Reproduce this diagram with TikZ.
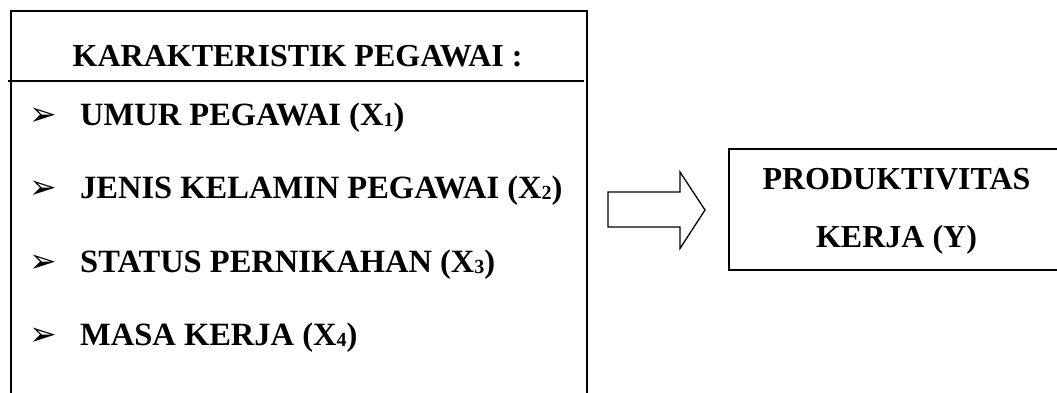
\documentclass[tikz,border=0pt]{standalone}
\usepackage{fontspec}
\setmainfont{Liberation Serif}
\newfontfamily\dejavu{DejaVu Sans}
\newcommand{\subdig}[1]{\raisebox{-1pt}{\fontsize{20}{20}\selectfont #1}}
\begin{document}
\begin{tikzpicture}[x=1pt,y=-1pt,
  frame/.style={draw, line width=2pt, inner sep=0pt},
  bigtxt/.style={font=\fontsize{32}{36}\selectfont\bfseries, inner sep=0pt},
  itemtxt/.style={font=\fontsize{32.5}{36}\selectfont\bfseries, inner sep=0pt, anchor=base west},
  bul/.style={font=\dejavu\fontsize{33}{36}\selectfont, inner sep=0pt, anchor=base west},
  arrowshape/.style={draw, line width=1.3pt, line join=miter}
  ]
\clip (0,0) rectangle (1057,392);
\fill[white] (0,0) rectangle (1057,392);
% left box (open at the bottom of the picture)
\node[frame, anchor=north west, minimum width=576.2pt, minimum height=420pt] (kar) at (9.5,10) {};
\coordinate (sepL) at (8,81);
\coordinate (sepR) at (584,81);
\draw[line width=2pt] (sepL) -- (sepR);
\node[bigtxt, anchor=base] (ttl) at (297.6,66) {KARAKTERISTIK PEGAWAI :};
% items
\node[bul] (b1) at (29,125) {➢};
\node[itemtxt] (i1) at (80,125) {UMUR PEGAWAI (X\subdig{1})};
\node[bul] (b2) at (29,198.5) {➢};
\node[itemtxt] (i2) at (80,198.5) {JENIS KELAMIN PEGAWAI (X\subdig{2})};
\node[bul] (b3) at (29,272) {➢};
\node[itemtxt] (i3) at (80,272) {STATUS PERNIKAHAN (X\subdig{3})};
\node[bul] (b4) at (29,345) {➢};
\node[itemtxt] (i4) at (80,345) {MASA KERJA (X\subdig{4})};
% block arrow
\coordinate (aL) at (608,209.5);
\coordinate (aT) at (705,210);
\draw[arrowshape] (608,192) -- (680,192) -- (680,172) -- (aT) -- (680,248.5) -- (680,227) -- (608,227) -- cycle;
% right box
\node[frame, anchor=north west, minimum width=340pt, minimum height=121.3pt] (prod) at (728,147.7) {};
\node[bigtxt, anchor=base] (p1) at (896.5,189) {PRODUKTIVITAS};
\node[bigtxt, anchor=base] (p2) at (896.5,247) {KERJA (Y)};
\end{tikzpicture}
\end{document}
